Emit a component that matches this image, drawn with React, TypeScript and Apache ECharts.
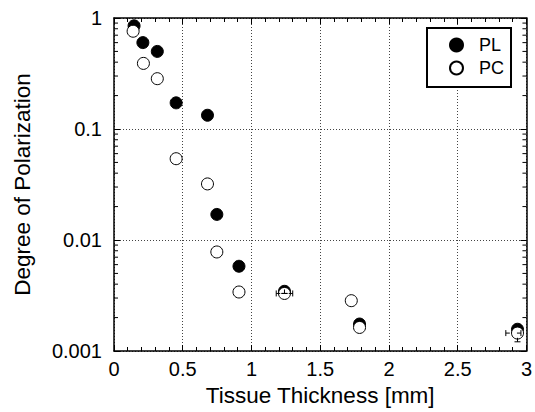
import React, { useEffect, useRef } from "react";
import * as echarts from "echarts";

// Axis structure
const xMin = 0;
const xMax = 3;
const xInterval = 0.5;
const yMin = 0.001;
const yMax = 1;
const yDecades = [0.001, 0.01, 0.1];
const logMinorMultipliers = [2, 3, 4, 5, 6, 7, 8, 9];

// PL (filled circles)
const plX = [0.146, 0.21, 0.315, 0.452, 0.68, 0.748, 0.909, 1.24, 1.786, 2.935];
const plY = [0.85, 0.6, 0.5, 0.172, 0.133, 0.017, 0.0058, 0.00345, 0.00175, 0.00157];

// PC (open circles)
const pcX = [0.139, 0.214, 0.315, 0.452, 0.68, 0.748, 0.909, 1.24, 1.726, 1.786, 2.935];
const pcY = [0.76, 0.39, 0.284, 0.054, 0.032, 0.0078, 0.0034, 0.0033, 0.00284, 0.00163, 0.00145];

// Error bars: x, y, xLow, xHigh, yLow, yHigh
const errX = [1.24, 2.935];
const errY = [0.0033, 0.00145];
const errXLow = [1.18, 2.85];
const errXHigh = [1.3, 2.96];
const errYLow = [0.0033, 0.00121];
const errYHigh = [0.0033, 0.00172];

const FONT = "'Liberation Sans', Arial, Helvetica, sans-serif";

export default function App() {
  const ref = useRef<HTMLDivElement>(null);

  useEffect(() => {
    if (!ref.current) return;
    const chart = echarts.init(ref.current, undefined, { renderer: "svg" });

    const minorTickData: number[][] = [];
    yDecades.forEach((d) => {
      logMinorMultipliers.forEach((m) => {
        minorTickData.push([xMin, Number((d * m).toPrecision(3))]);
      });
    });

    const errData = errX.map((x, i) => [x, errY[i], errXLow[i], errXHigh[i], errYLow[i], errYHigh[i]]);

    const axisLine = { show: true, onZero: false, lineStyle: { color: "#000", width: 1.5 } };
    const tickStyle = { color: "#000", width: 1 };
    const gridLine = { show: true, lineStyle: { color: "#444", width: 1, type: [1, 2] as any } };

    const option: any = {
      animation: false,
      backgroundColor: "#fff",
      textStyle: { fontFamily: FONT },
      grid: { left: 114, right: 5, top: 18, bottom: 61, containLabel: false },
      legend: {
        data: [
          { name: "PL", icon: "circle" },
          { name: "PC", icon: "circle" },
        ],
        orient: "vertical",
        left: 427,
        top: 28,
        itemWidth: 13,
        itemHeight: 13,
        itemGap: 5,
        padding: [8, 7, 10, 22],
        borderColor: "#000",
        borderWidth: 2,
        backgroundColor: "#fff",
        selectedMode: false,
        textStyle: { fontSize: 18, color: "#000", fontFamily: FONT, padding: [0, 0, 0, 11] },
      },
      xAxis: [
        {
          type: "value",
          min: xMin,
          max: xMax,
          interval: xInterval,
          position: "bottom",
          axisLine,
          axisTick: { show: true, inside: true, length: 6, lineStyle: tickStyle },
          minorTick: { show: true, splitNumber: 5, length: 4, lineStyle: tickStyle },
          axisLabel: { fontSize: 20, color: "#000", margin: 8, fontFamily: FONT },
          splitLine: gridLine,
          name: "Tissue Thickness [mm]",
          nameLocation: "middle",
          nameGap: 28,
          nameTextStyle: { fontSize: 22.5, color: "#000", fontFamily: FONT },
        },
        {
          type: "value",
          min: xMin,
          max: xMax,
          interval: xInterval,
          position: "top",
          axisLine,
          axisTick: { show: true, inside: true, length: 6, lineStyle: tickStyle },
          minorTick: { show: true, splitNumber: 5, length: 4, lineStyle: tickStyle },
          axisLabel: { show: false },
          splitLine: { show: false },
        },
      ],
      yAxis: [
        {
          type: "log",
          logBase: 10,
          min: yMin,
          max: yMax,
          position: "left",
          axisLine,
          axisTick: { show: true, inside: true, length: 6, lineStyle: tickStyle },
          axisLabel: {
            fontSize: 20,
            color: "#000",
            margin: 12,
            fontFamily: FONT,
            formatter: (v: number) => String(Number(v.toPrecision(2))),
          },
          splitLine: gridLine,
          name: "Degree of Polarization",
          nameLocation: "middle",
          nameGap: 80,
          nameTextStyle: { fontSize: 22.5, color: "#000", fontFamily: FONT },
        },
        {
          type: "log",
          logBase: 10,
          min: yMin,
          max: yMax,
          position: "right",
          axisLine,
          axisTick: { show: true, inside: true, length: 6, lineStyle: tickStyle },
          axisLabel: { show: false },
          splitLine: { show: false },
        },
      ],
      series: [
        {
          type: "custom",
          name: "minorTicks",
          xAxisIndex: 0,
          yAxisIndex: 0,
          clip: false,
          silent: true,
          z: 2,
          encode: { x: 0, y: 1 },
          data: minorTickData,
          renderItem: (params: any, api: any) => {
            const v = api.value(1);
            const l = api.coord([xMin, v]);
            const r = api.coord([xMax, v]);
            return {
              type: "group",
              children: [
                { type: "line", shape: { x1: l[0], y1: l[1], x2: l[0] + 4, y2: l[1] }, style: { stroke: "#000", lineWidth: 1 } },
                { type: "line", shape: { x1: r[0] - 4, y1: r[1], x2: r[0], y2: r[1] }, style: { stroke: "#000", lineWidth: 1 } },
              ],
            };
          },
        },
        {
          type: "scatter",
          name: "PL",
          symbol: "circle",
          symbolSize: 12,
          itemStyle: { color: "#000", borderColor: "#000", borderWidth: 1, opacity: 1 },
          z: 3,
          data: plX.map((x, i) => [x, plY[i]]),
        },
        {
          type: "custom",
          name: "errorBars",
          clip: false,
          silent: true,
          z: 6,
          encode: { x: 0, y: 1 },
          data: errData,
          renderItem: (params: any, api: any) => {
            const y = api.value(1);
            const x = api.value(0);
            const a = api.coord([api.value(2), y]);
            const b = api.coord([api.value(3), y]);
            const c = api.coord([x, api.value(4)]);
            const d = api.coord([x, api.value(5)]);
            const cap = 3;
            const st = { stroke: "#000", lineWidth: 1 };
            return {
              type: "group",
              children: [
                { type: "line", shape: { x1: a[0], y1: a[1], x2: a[0] + 4, y2: a[1] }, style: st },
                { type: "line", shape: { x1: b[0] - 4, y1: b[1], x2: b[0], y2: b[1] }, style: st },
                { type: "line", shape: { x1: a[0], y1: a[1] - cap, x2: a[0], y2: a[1] + cap }, style: st },
                { type: "line", shape: { x1: b[0], y1: b[1] - cap, x2: b[0], y2: b[1] + cap }, style: st },
                { type: "line", shape: { x1: c[0], y1: c[1], x2: c[0], y2: c[1] - 4 }, style: st },
                { type: "line", shape: { x1: c[0] - cap, y1: c[1], x2: c[0] + cap, y2: c[1] }, style: st },
                { type: "line", shape: { x1: d[0] - cap, y1: d[1], x2: d[0] + cap, y2: d[1] }, style: st },
              ],
            };
          },
        },
        {
          type: "scatter",
          name: "PC",
          symbol: "circle",
          symbolSize: 12,
          itemStyle: { color: "#fff", borderColor: "#000", borderWidth: 1, opacity: 1 },
          z: 5,
          data: pcX.map((x, i) => [x, pcY[i]]),
        },
      ],
    };

    chart.setOption(option);
    return () => chart.dispose();
  }, []);

  return (
    <div
      ref={ref}
      style={{ position: "fixed", left: 0, top: 0, width: 535, height: 412, background: "#fff" }}
    />
  );
}
